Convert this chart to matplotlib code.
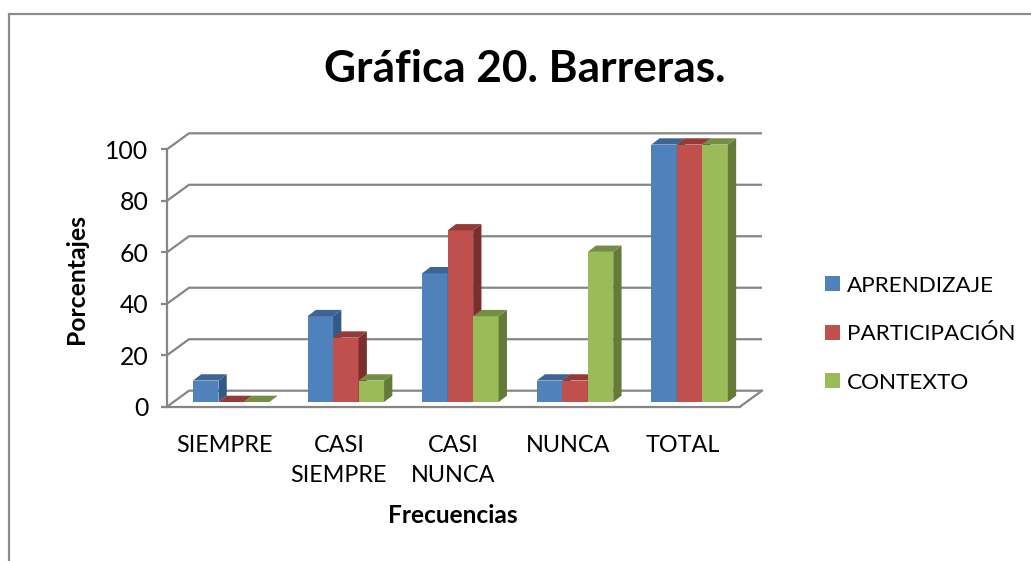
import matplotlib
matplotlib.use("Agg")
import matplotlib.pyplot as plt
from matplotlib.lines import Line2D
from matplotlib.patches import Polygon
import numpy as np

categories = ["SIEMPRE", "CASI\nSIEMPRE", "CASI\nNUNCA", "NUNCA", "TOTAL"]
aprendizaje = [8.33, 33.33, 50, 8.33, 100]
participacion = [0, 25, 66.67, 8.33, 100]
contexto = [0, 8.33, 33.33, 58.33, 100]
series_names = ["APRENDIZAJE", "PARTICIPACIÓN", "CONTEXTO"]
y_ticks = [0, 20, 40, 60, 80, 100]
title = "Gráfica 20. Barreras."
ylabel = "Porcentajes"
xlabel = "Frecuencias"

plt.rcParams["font.family"] = ["Lato", "DejaVu Sans"]
W, H = 1031, 561
fig = plt.figure(figsize=(W / 100, H / 100), dpi=100, facecolor="white")

# plot front plane in pixels
L, R, T, B = 167, 740, 149.3, 406.7
ax = fig.add_axes([L / W, 1 - B / H, (R - L) / W, (B - T) / H])
ax.set_xlim(-0.5, 4.5)
ax.set_ylim(0, 100)
ax.patch.set_visible(False)
ux = (R - L) / 5          # px per category
uy = (B - T) / 100        # px per value unit
px = lambda p: p / ux
py = lambda p: p / uy

GRID = "#868686"
LW = 1.6
wall_dx, wall_dy = px(22), py(16)
x0, x1 = ax.get_xlim()
for v in y_ticks:
    ax.plot([x0, x0 + wall_dx, x1 + wall_dx], [v, v + wall_dy, v + wall_dy],
            color=GRID, lw=LW, clip_on=False, zorder=1, solid_capstyle="butt")
ax.plot([x1, x1 + wall_dx], [0, wall_dy], color=GRID, lw=LW, clip_on=False, zorder=1)

for s in ("top", "right"):
    ax.spines[s].set_visible(False)
for s in ("left", "bottom"):
    ax.spines[s].set_color(GRID)
    ax.spines[s].set_linewidth(LW)
    ax.spines[s].set_zorder(1)

# bars
front = ["#4F81BD", "#C0504D", "#9BBB59"]
topc = ["#3C6494", "#953A37", "#748F43"]
side = ["#335A86", "#7A2F2D", "#637A38"]
vals = [aprendizaje, participacion, contexto]
bw = 25.5 / ux
shift = px(6.9)
base = py(4.7)
ddx, ddy = px(8.3), py(6.3)
x = np.arange(len(categories))
handles = []
z = 3
for i in range(len(categories)):
    for k in range(3):
        left = x[i] + shift + (k - 1.5) * bw
        v = vals[k][i]
        h = ax.bar(left, v, width=bw, bottom=base, align="edge", color=front[k],
                   clip_on=False, zorder=z, linewidth=0)
        top = base + v
        ax.add_patch(Polygon([(left + bw, base), (left + bw + ddx, base + ddy),
                              (left + bw + ddx, top + ddy), (left + bw, top)],
                             closed=True, fc=side[k], ec="none", clip_on=False, zorder=z))
        ax.add_patch(Polygon([(left, top), (left + ddx, top + ddy),
                              (left + bw + ddx, top + ddy), (left + bw, top)],
                             closed=True, fc=topc[k], ec="none", clip_on=False, zorder=z))
        z += 1
        if i == 0:
            handles.append(h[0])

ax.set_yticks(y_ticks)
ax.tick_params(axis="y", length=4.3, width=LW, color=GRID, labelsize=17.8, pad=9, labelcolor="black")
ax.set_xticks(x)
ax.set_xticklabels(categories, linespacing=1.5)
ax.tick_params(axis="x", length=0, labelsize=16.8, pad=20.5, labelcolor="black")

ax.set_ylabel(ylabel, fontsize=17.8, fontweight="bold", color="black")
ax.yaxis.set_label_coords((88 - L) / (R - L), (B - 279) / (B - T))
ax.set_xlabel(xlabel, fontsize=17.6, fontweight="bold", color="black")
ax.xaxis.set_label_coords((453 - L) / (R - L), (B - 504) / (B - T))

fig.text(525 / W, 1 - 69 / H, title, fontsize=31.8, fontweight="bold",
         ha="center", va="center", color="black")

FSL = 16.2
fp = FSL * 100 / 72
ax.legend(handles, series_names, loc="upper left",
          bbox_to_anchor=(825 / W, 1 - 275.5 / H), bbox_transform=fig.transFigure,
          frameon=False, fontsize=FSL, handlelength=15 / fp, handleheight=15 / fp,
          handletextpad=7 / fp, labelspacing=1.27, borderpad=0, borderaxespad=0)

# outer frame
fig.add_artist(Line2D([9 / W, 9 / W, 1], [0, 1 - 14 / H, 1 - 14 / H],
                      transform=fig.transFigure, color="#8C8C8C", lw=1.6,
                      solid_joinstyle="miter"))

fig.savefig("out.png", dpi=100, facecolor="white")
